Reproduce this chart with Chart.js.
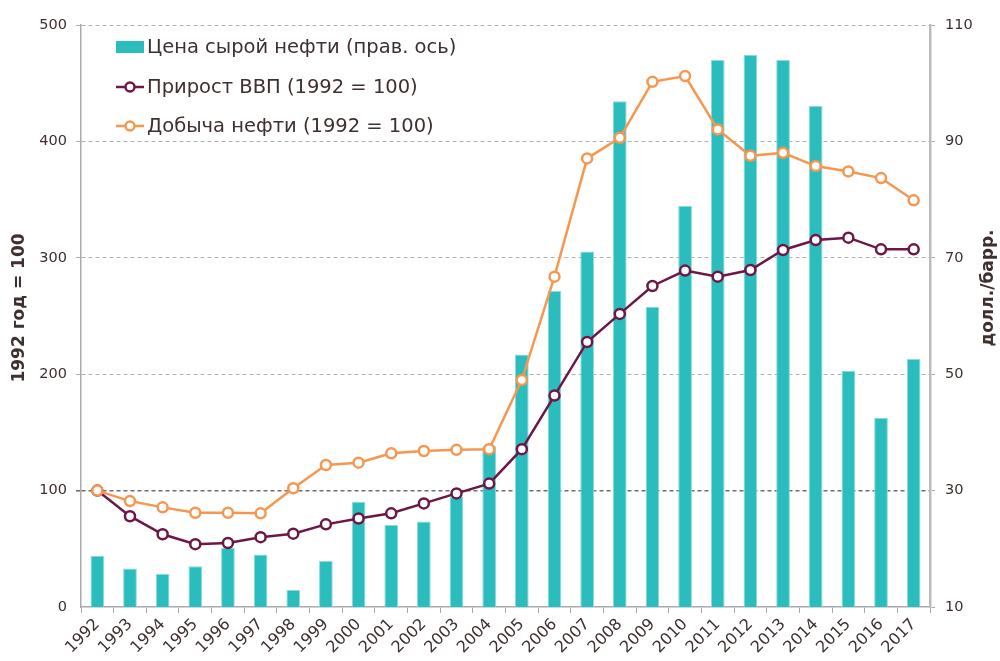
<!DOCTYPE html>
<html lang="ru">
<head>
  <meta charset="UTF-8" />
  <title>Цена нефти, ВВП и добыча нефти</title>
  <script src="https://cdn.jsdelivr.net/npm/chart.js"></script>
  <style>
    html, body { margin: 0; padding: 0; background: #fff; }
    #wrap { width: 1000px; height: 661px; position: relative; }
  </style>
</head>
<body>
  <div id="wrap"><canvas id="chart"></canvas></div>

  <script>
    // data
    const years = ['1992','1993','1994','1995','1996','1997','1998','1999','2000','2001','2002','2003','2004',
                   '2005','2006','2007','2008','2009','2010','2011','2012','2013','2014','2015','2016','2017'];
    const oilPrice = [18.8, 16.6, 15.7, 17.0, 20.2, 19.0, 12.9, 17.9, 28.1, 24.1, 24.7, 28.9, 37.6,
                      53.4, 64.3, 71.1, 96.9, 61.6, 78.9, 104.0, 104.9, 104.0, 96.1, 50.6, 42.5, 52.6];
    const gdp = [100, 78, 62.5, 54, 55, 60, 63, 71, 76, 80.5, 89, 97.6, 106,
                 135.6, 181.6, 227.7, 251.8, 275.8, 289, 283.8, 289.5, 306.7, 315.3, 317.3, 307.3, 307.3];
    const oilOutput = [100, 91, 85.6, 81, 81, 80.5, 102, 122, 124, 132, 134, 135, 135.6,
                       195.1, 283.8, 385.4, 403.1, 451.2, 456.1, 410.3, 387.6, 390.2, 378.8, 374.2, 368.5, 349.4];
    const leftTicks = [0, 100, 200, 300, 400, 500];
    const rightTicks = [10, 30, 50, 70, 90, 110];

    const textColor = '#3f2f2f';
    const fontFamily = '"DejaVu Sans", Verdana, sans-serif';

    // legend + axis titles drawn on the canvas
    const decorPlugin = {
      id: 'decor',
      afterDraw(chart) {
        const ctx = chart.ctx;
        const area = chart.chartArea;
        ctx.save();
        ctx.fillStyle = textColor;
        ctx.textBaseline = 'middle';

        // axis titles, both read bottom to top
        ctx.font = 'bold 17px ' + fontFamily;
        ctx.textAlign = 'center';
        ctx.save();
        ctx.translate(20, 308);
        ctx.rotate(-Math.PI / 2);
        ctx.fillText('1992 год = 100', 0, 0);
        ctx.restore();
        ctx.save();
        ctx.translate(989, 288);
        ctx.rotate(-Math.PI / 2);
        ctx.fillText('долл./барр.', 0, 0);
        ctx.restore();

        // legend
        const x0 = area.left + 35;
        const rows = [47, 87, 126];
        ctx.font = '19.5px ' + fontFamily;
        ctx.textAlign = 'left';
        chart.data.datasets.forEach((ds, r) => {
          const y = rows[r];
          if (ds.type === 'bar') {
            ctx.fillStyle = ds.backgroundColor;
            ctx.fillRect(x0, y - 6, 28, 12);
          } else {
            ctx.strokeStyle = ds.borderColor;
            ctx.lineWidth = 2.5;
            ctx.beginPath();
            ctx.moveTo(x0, y);
            ctx.lineTo(x0 + 28, y);
            ctx.stroke();
            ctx.beginPath();
            ctx.arc(x0 + 14, y, 4.5, 0, Math.PI * 2);
            ctx.fillStyle = '#fff';
            ctx.fill();
            ctx.stroke();
          }
          ctx.fillStyle = textColor;
          ctx.fillText(ds.label, x0 + 31, y + 1);
        });
        ctx.restore();
      }
    };

    const ctx = document.getElementById('chart').getContext('2d');
    new Chart(ctx, {
      data: {
        labels: years,
        datasets: [
          {
            type: 'bar',
            label: 'Цена сырой нефти (прав. ось)',
            data: oilPrice,
            yAxisID: 'y1',
            backgroundColor: '#2bbdbd',
            borderColor: '#8fdada',
            borderWidth: { top: 1, left: 1, right: 1, bottom: 0 },
            barPercentage: 0.42,
            categoryPercentage: 1,
            order: 3
          },
          {
            type: 'line',
            label: 'Прирост ВВП (1992 = 100)',
            data: gdp,
            yAxisID: 'y',
            borderColor: '#6d1746',
            backgroundColor: '#fff',
            borderWidth: 2.5,
            pointRadius: 5,
            pointBorderWidth: 2.5,
            pointBackgroundColor: '#fff',
            tension: 0,
            order: 2
          },
          {
            type: 'line',
            label: 'Добыча нефти (1992 = 100)',
            data: oilOutput,
            yAxisID: 'y',
            borderColor: '#f7964f',
            backgroundColor: '#fff',
            borderWidth: 2.5,
            pointRadius: 5,
            pointBorderWidth: 2.5,
            pointBackgroundColor: '#fff',
            tension: 0,
            order: 1
          }
        ]
      },
      options: {
        responsive: true,
        maintainAspectRatio: false,
        animation: false,
        layout: { padding: { top: 25, left: 0, right: 0, bottom: 0 } },
        plugins: {
          legend: { display: false },
          tooltip: { enabled: false }
        },
        scales: {
          x: {
            offset: true,
            afterFit(scale) { scale.height = 54; },
            grid: { drawOnChartArea: false, drawTicks: true, tickLength: 6, color: '#aaa', offset: true },
            border: { color: '#aaa', width: 1.5 },
            ticks: {
              minRotation: 45,
              maxRotation: 45,
              color: textColor,
              font: { family: fontFamily, size: 16 },
              padding: 2
            }
          },
          y: {
            position: 'left',
            min: 0,
            max: 500,
            afterFit(scale) { scale.width = 81; },
            afterBuildTicks(scale) { scale.ticks = leftTicks.map(v => ({ value: v })); },
            grid: {
              color: c => c.tick && c.tick.value === 100 ? '#6e6e6e' : (c.tick && c.tick.value === 0 ? 'rgba(0,0,0,0)' : '#b0b0b0'),
              lineWidth: c => c.tick && c.tick.value === 100 ? 1.6 : 1,
              tickLength: 5
            },
            border: { color: '#aaa', width: 1.5, dash: [4, 3] },
            ticks: {
              color: textColor,
              font: { family: fontFamily, size: 14.5 },
              padding: 9
            }
          },
          y1: {
            position: 'right',
            min: 10,
            max: 110,
            afterFit(scale) { scale.width = 70; },
            afterBuildTicks(scale) { scale.ticks = rightTicks.map(v => ({ value: v })); },
            grid: { drawOnChartArea: false, tickLength: 5, color: '#aaa' },
            border: { color: '#bbb', width: 2.5 },
            ticks: {
              color: textColor,
              font: { family: fontFamily, size: 14.5 },
              padding: 10
            }
          }
        }
      },
      plugins: [decorPlugin]
    });
  </script>
</body>
</html>
